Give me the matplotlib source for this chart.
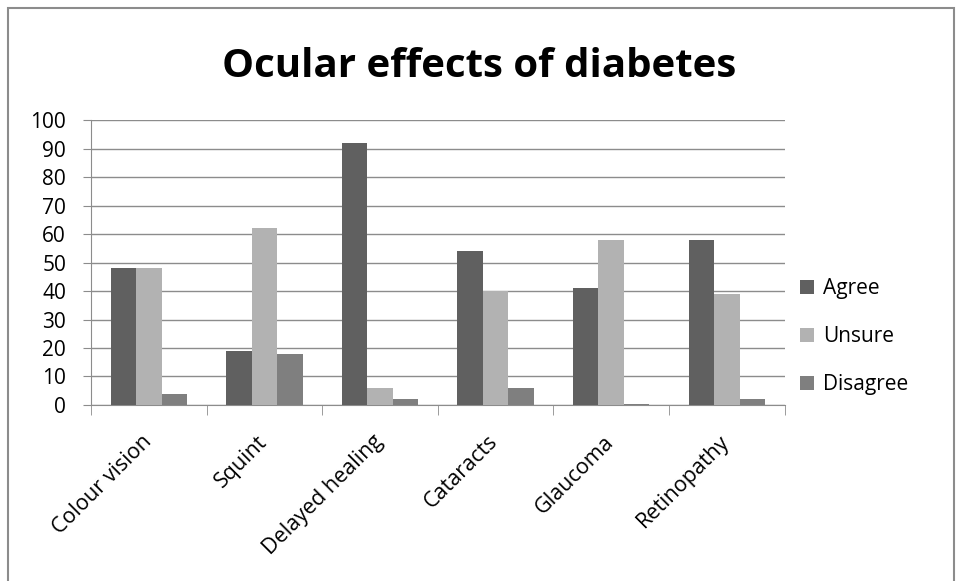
import numpy as np
import matplotlib.pyplot as plt
import matplotlib.transforms as mtransforms
from matplotlib.patches import Rectangle

# data
categories = ["Colour vision", "Squint", "Delayed healing", "Cataracts", "Glaucoma", "Retinopathy"]
agree    = [48, 19, 92, 54, 41, 58]
unsure   = [48, 62, 6, 40, 58, 39]
disagree = [4, 18, 2, 6, 0.5, 2]

plt.rcParams['font.family'] = ['Open Sans', 'DejaVu Sans']

fig = plt.figure(figsize=(9.58, 5.81), dpi=100)
ax = fig.add_axes([0.095, 0.303, 0.724, 0.49])

x = np.arange(len(categories))
w = 0.22
ax.bar(x - w, agree, w, color="#606060", label="Agree", zorder=3)
ax.bar(x, unsure, w, color="#b2b2b2", label="Unsure", zorder=3)
ax.bar(x + w, disagree, w, color="#7f7f7f", label="Disagree", zorder=3)

ax.set_xlim(-0.5, len(categories) - 0.5)
ax.set_ylim(0, 100)
ax.set_yticks(range(0, 101, 10))
ax.yaxis.grid(True, color="#8c8c8c", linewidth=1, zorder=0)

ax.set_xticks(x)
ax.set_xticklabels(categories, rotation=45, ha="right", rotation_mode="anchor", fontsize=15.5)
ax.tick_params(axis="x", length=0, pad=19)
ax.set_xticks(np.arange(-0.5, len(categories)), minor=True)
ax.tick_params(axis="x", which="minor", length=7, color="#8c8c8c", direction="out")
ax.tick_params(axis="y", labelsize=15, length=6, pad=12, color="#8c8c8c", direction="out")

# nudge category labels slightly left
shift = mtransforms.ScaledTranslation(-8 / 100, 0, fig.dpi_scale_trans)
for lbl in ax.get_xticklabels():
    lbl.set_transform(lbl.get_transform() + shift)

for s in ["top", "right"]:
    ax.spines[s].set_visible(False)
ax.spines["left"].set_color("#8c8c8c")
ax.spines["bottom"].set_color("#8c8c8c")

fig.text(0.5, 0.8675, "Ocular effects of diabetes", ha="center", va="baseline",
         fontsize=29, fontweight="bold")

ax.legend(loc="center left", bbox_to_anchor=(0.995, 0.239), frameon=False,
          fontsize=15, handlelength=0.7, handleheight=0.7, labelspacing=1.3,
          handletextpad=0.4)

fig.patches.append(Rectangle((0.008, -0.01), 0.988, 0.997, transform=fig.transFigure,
                             fill=False, edgecolor="#8c8c8c", linewidth=1.5))

fig.savefig("out.png", dpi=100)
